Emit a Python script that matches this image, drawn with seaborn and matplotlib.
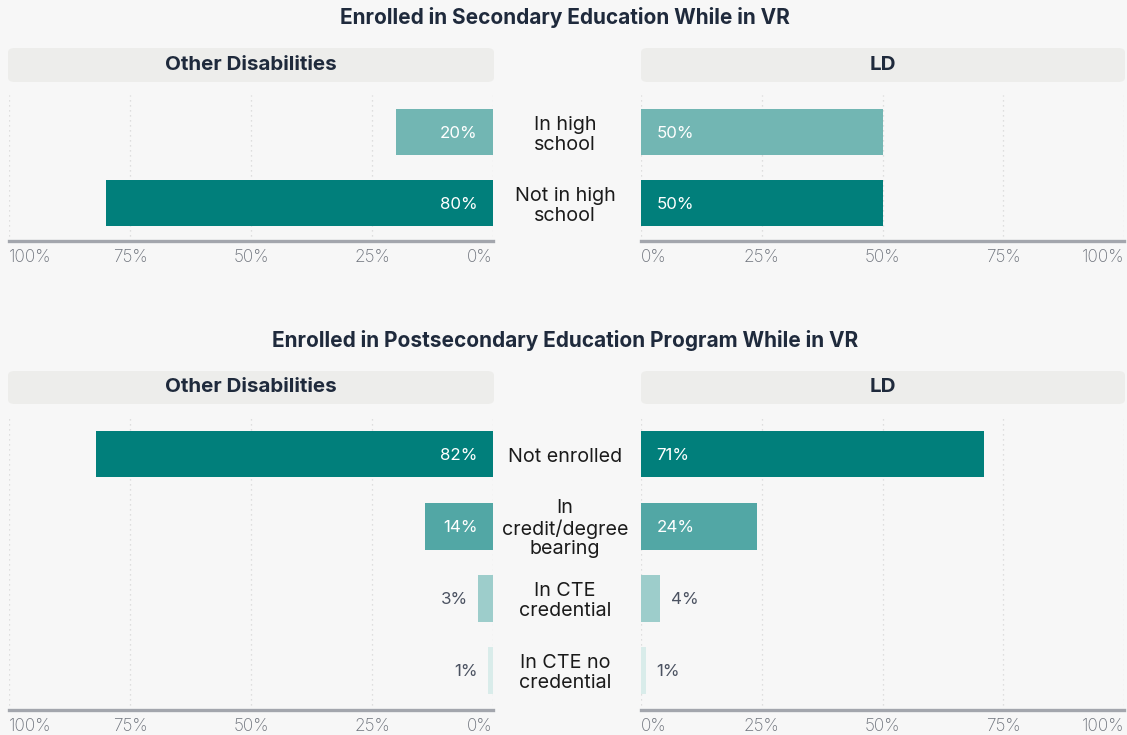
import matplotlib
matplotlib.use("Agg")
import matplotlib.pyplot as plt
from matplotlib.patches import FancyBboxPatch
from matplotlib import transforms
import seaborn as sns
import pandas as pd

# ---------------- data ----------------
sec_categories = ["In high\nschool", "Not in high\nschool"]
sec_other = [20, 80]
sec_ld = [50, 50]
sec_colors = ["#72b6b3", "#017f7b"]

post_categories = ["Not enrolled", "In\ncredit/degree\nbearing", "In CTE\ncredential", "In CTE no\ncredential"]
post_other = [82, 14, 3, 1]
post_ld = [71, 24, 4, 1]
post_colors = ["#017f7b", "#52a7a5", "#9dcdcb", "#d9ecea"]

tick_values = [0, 25, 50, 75, 100]
tick_labels = ["0%", "25%", "50%", "75%", "100%"]

titles = ["Enrolled in Secondary Education While in VR",
          "Enrolled in Postsecondary Education Program While in VR"]
panel_titles = ["Other Disabilities", "LD"]

# ---------------- style ----------------
sns.set_theme(style="white")
FONT = ["Inter", "DejaVu Sans"]
plt.rcParams["font.family"] = FONT
BG = "#f7f7f7"
DARK = "#1f2a3c"
TICK = "#6c717a"
OUTLBL = "#4b5261"

W, H = 1127, 735
fig = plt.figure(figsize=(W / 100, H / 100), dpi=100, facecolor=BG)


def fx(px):
    return px / W


def fy(py):
    return 1 - py / H


L0, L1 = 9, 493      # left panel x pixel range
R0, R1 = 641, 1124   # right panel x pixel range


def header(x0, x1, y0, y1, text):
    p = FancyBboxPatch((fx(x0), fy(y1)), fx(x1 - x0), (y1 - y0) / H,
                       boxstyle="round,pad=0,rounding_size=0.006",
                       transform=fig.transFigure, facecolor="#ededeb",
                       edgecolor="none", zorder=0)
    fig.patches.append(p)
    fig.text(fx((x0 + x1) / 2), fy((y0 + y1) / 2), text, ha="center", va="center",
             fontsize=14.8, fontweight="bold", color=DARK)


def panel(x0, x1, ytop, ybot, cats, vals, colors, ylim, left):
    ax = fig.add_axes([fx(x0), fy(ybot), fx(x1 - x0), (ybot - ytop) / H])
    ax.set_facecolor("none")
    df = pd.DataFrame({"cat": cats, "val": [v / 100 for v in vals]})
    sns.barplot(data=df, x="val", y="cat", hue="cat", palette=colors,
                legend=False, orient="h", width=0.65, ax=ax,
                saturation=1, zorder=3, linewidth=0)
    ax.set_xlim(1, 0) if left else ax.set_xlim(0, 1)
    ax.set_ylim(*ylim)
    ax.set_xlabel("")
    ax.set_ylabel("")
    ax.set_yticks([])
    ax.set_xticks([t / 100 for t in tick_values])
    ax.set_xticklabels(tick_labels)
    ax.tick_params(axis="x", length=0, pad=6, labelsize=12.4, labelcolor=TICK)
    for lab in ax.get_xticklabels():
        lab.set_fontweight("light")
    labs = ax.get_xticklabels()
    if left:
        labs[0].set_ha("right")
        labs[-1].set_ha("left")
    else:
        labs[0].set_ha("left")
        labs[-1].set_ha("right")
    for s in ["top", "left", "right"]:
        ax.spines[s].set_visible(False)
    ax.spines["bottom"].set_color("#a3a6ad")
    ax.spines["bottom"].set_linewidth(2.4)
    ax.spines["bottom"].set_zorder(4)
    ax.grid(axis="x", linestyle=(0, (1, 3)), color="#d6d6d6", linewidth=0.9, zorder=0)
    ax.set_axisbelow(True)

    sign = -1 if left else 1
    for i, v in enumerate(vals):
        if v >= 10:
            ax.annotate(f"{v}%", xy=(0, i), xytext=(sign * 11, -1),
                        textcoords="offset points", va="center",
                        ha="right" if left else "left", fontsize=12.2,
                        color="white", zorder=5)
        else:
            ax.annotate(f"{v}%", xy=(v / 100, i), xytext=(sign * 7.5, -1),
                        textcoords="offset points", va="center",
                        ha="right" if left else "left", fontsize=12.2,
                        color=OUTLBL, zorder=5)
    return ax


def section(title_y, hy0, hy1, ytop, ybot, cats, other, ld, colors, ylim):
    fig.text(fx(565), fy(title_y), titles[section.n], ha="center", va="center",
             fontsize=15, fontweight="bold", color=DARK)
    section.n += 1
    header(8, 494, hy0, hy1, panel_titles[0])
    header(641, 1125, hy0, hy1, panel_titles[1])
    panel(L0, L1, ytop, ybot, cats, other, colors, ylim, left=True)
    axr = panel(R0, R1, ytop, ybot, cats, ld, colors, ylim, left=False)
    tr = transforms.blended_transform_factory(fig.transFigure, axr.transData)
    for i, c in enumerate(cats):
        t = axr.text(fx(565), i, c, transform=tr, ha="center", va="center",
                     fontsize=14.2, color="#1b1b1b", linespacing=1.12, clip_on=False)
        t.set_transform(tr + transforms.ScaledTranslation(0, -2 / 72, fig.dpi_scale_trans))


section.n = 0
section(18, 48, 82, 95, 241, sec_categories, sec_other, sec_ld, sec_colors,
        (1.535, -0.52))
section(341, 371, 404, 418, 710, post_categories, post_other, post_ld, post_colors,
        (3.55, -0.5))

fig.savefig("out.png", dpi=100, facecolor=BG)
